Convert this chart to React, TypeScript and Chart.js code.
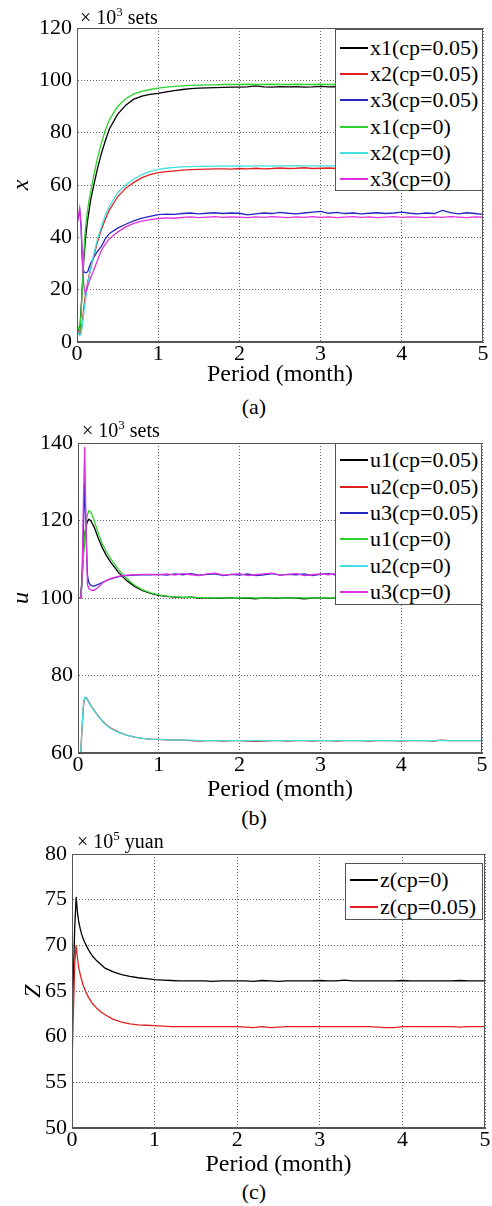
import React, { useEffect, useRef } from "react";
import { Chart, registerables } from "chart.js";
Chart.register(...registerables);

const FONT = "'Liberation Serif', 'Times New Roman', serif";

// time axis (months)
const T = [0, 0.033, 0.05, 0.067, 0.083, 0.1, 0.117, 0.133, 0.15, 0.167, 0.2, 0.25, 0.3, 0.35, 0.4, 0.5, 0.6, 0.7, 0.8, 0.9,
  1.0, 1.1, 1.2, 1.3, 1.4, 1.5, 1.6, 1.7, 1.8, 1.9,
  2.0, 2.1, 2.2, 2.3, 2.4, 2.5, 2.6, 2.7, 2.8, 2.9,
  3.0, 3.1, 3.2, 3.3, 3.4, 3.5, 3.6, 3.7, 3.8, 3.9,
  4.0, 4.1, 4.2, 4.3, 4.4, 4.5, 4.6, 4.7, 4.8, 4.9,
  5.0];
const X_TICKS = [0, 1, 2, 3, 4, 5];

// ---- panel (a): x, x10^3 sets ----
const x1_cp005 = [5, 4, 12, 22, 31, 38, 43, 47, 50.5, 54, 59, 66, 72, 77, 81.5, 87, 90.5, 92.8, 94, 94.6,
  95.0, 95.6, 96.1, 96.5, 96.8, 97.0, 97.1, 97.2, 97.3, 97.4,
  97.4, 97.5, 97.9, 97.5, 97.4, 97.6, 97.5, 97.6, 97.4, 97.5,
  97.7, 97.5, 97.6, 97.4, 97.5, 97.6, 97.5, 97.4, 97.6, 97.5,
  97.5, 97.6, 97.4, 97.5, 97.6, 97.5, 97.4, 97.6, 97.5, 97.6,
  97.5];
const x2_cp005 = [4, 3, 4, 8, 13, 17, 20, 23, 25.5, 28, 32, 38, 43, 47, 50.5, 55.5, 58.8, 61, 62.8, 64,
  64.7, 65.1, 65.4, 65.7, 65.9, 66.0, 66.1, 66.2, 66.2, 66.1,
  66.3, 66.2, 66.4, 66.2, 66.3, 66.5, 66.3, 66.4, 66.6, 66.3,
  66.4, 66.5, 66.3, 66.4, 66.5, 66.3, 66.4, 66.5, 66.4, 66.3,
  66.4, 66.5, 66.4, 66.3, 66.5, 66.4, 66.4, 66.5, 66.3, 66.4,
  66.4];
const x3_cp005 = [45, 50.5, 44, 30, 27, 26.5, 26.5, 27, 28.5, 30, 32, 34.5, 36.5, 39.5, 41.5, 43.5, 45, 46.3, 47.3, 48,
  48.7, 48.9, 48.8, 49.1, 49.3, 49.0, 49.2, 49.4, 49.1, 49.3,
  49.2, 48.6, 49.0, 49.3, 49.1, 49.5, 49.2, 49.0, 49.3, 49.6,
  49.9, 49.2, 49.5, 49.1, 49.3, 49.0, 49.2, 49.4, 49.1, 49.3,
  49.6, 49.2, 49.0, 49.3, 49.1, 50.3, 49.4, 49.0, 49.4, 49.1,
  48.8];
const x1_cp0 = [7, 4, 11, 22, 33, 42, 47, 51, 54.5, 57, 62.5, 70, 76, 81, 85, 90, 93, 94.8, 95.8, 96.5,
  97.0, 97.4, 97.7, 97.9, 98.1, 98.2, 98.3, 98.3, 98.4, 98.4,
  98.4, 98.5, 98.4, 98.4, 98.5, 98.4, 98.4, 98.5, 98.4, 98.4,
  98.5, 98.4, 98.4, 98.5, 98.4, 98.4, 98.5, 98.4, 98.4, 98.5,
  98.4, 98.4, 98.5, 98.4, 98.4, 98.5, 98.4, 98.4, 98.5, 98.4,
  98.4];
const x2_cp0 = [4, 2.5, 3, 7, 11, 15, 19, 22, 25, 28, 32.5, 39, 44, 48.5, 52, 57, 60, 62.3, 64, 65.2,
  66.0, 66.4, 66.7, 66.9, 67.0, 67.1, 67.1, 67.2, 67.2, 67.2,
  67.3, 67.2, 67.3, 67.3, 67.2, 67.3, 67.3, 67.4, 67.3, 67.3,
  67.3, 67.3, 67.4, 67.3, 67.3, 67.3, 67.4, 67.3, 67.3, 67.3,
  67.3, 67.4, 67.3, 67.3, 67.3, 67.4, 67.3, 67.3, 67.3, 67.3,
  67.3];
const x3_cp0 = [45, 51, 45, 32, 22, 18.5, 20, 21.5, 23, 24.5, 27, 31, 35, 37.5, 39.5, 42, 44, 45.3, 46.2, 46.8,
  47.2, 47.4, 47.3, 47.6, 47.8, 47.5, 47.7, 47.9, 47.6, 47.8,
  47.7, 47.5, 47.8, 47.6, 47.9, 47.7, 47.5, 47.8, 47.6, 47.9,
  47.6, 47.8, 47.5, 47.7, 47.9, 47.6, 47.8, 47.5, 47.7, 47.9,
  47.6, 47.8, 47.7, 47.5, 47.8, 47.6, 47.9, 47.7, 47.5, 47.8,
  47.7];

// ---- panel (b): u, x10^3 sets ----
const u1_cp005 = [100, 100, 105, 112, 116.5, 118.5, 119.8, 120.3, 120.1, 119.6, 118.3, 115.5, 113, 111, 109.4, 106.6, 104.5, 103, 101.9, 101.2,
  100.7, 100.4, 100.2, 100.1, 100.2, 100.0, 100.1, 99.9, 100.0, 100.1,
  99.9, 100.0, 99.8, 100.1, 100.0, 99.9, 100.1, 100.0, 99.8, 100.0,
  100.1, 99.9, 100.0, 100.1, 99.9, 100.0, 100.0, 99.9, 100.1, 100.0,
  99.9, 100.0, 100.1, 100.0, 99.9, 100.0, 100.1, 99.9, 100.0, 100.0,
  100.0];
const u2_cp005 = [60, 60, 66, 72, 74.2, 74.3, 73.8, 73.2, 72.6, 72, 71, 69.6, 68.3, 67.3, 66.5, 65.4, 64.6, 64.1, 63.8, 63.6,
  63.5, 63.4, 63.3, 63.3, 63.2, 63.1, 63.2, 63.2, 63.1, 63.2,
  63.2, 63.1, 63.0, 63.1, 63.2, 63.2, 63.1, 63.2, 63.2, 63.1,
  63.2, 63.2, 63.1, 63.2, 63.2, 63.2, 63.1, 63.2, 63.2, 63.2,
  63.1, 63.2, 63.2, 63.2, 63.1, 63.3, 63.2, 63.2, 63.2, 63.2,
  63.2];
const u3_cp005 = [100, 100, 104, 118, 130, 116, 106, 104, 103.5, 103.2, 103.1, 103.5, 104, 104.5, 104.9, 105.5, 105.8, 105.9, 106, 106,
  106.1, 105.9, 106.2, 106.0, 106.3, 105.9, 106.1, 106.2, 105.8, 106.1,
  105.9, 106.2, 105.8, 106.0, 106.3, 105.9, 106.1, 106.0, 106.2, 105.8,
  106.1, 106.3, 105.9, 106.0, 106.2, 105.9, 106.1, 106.0, 106.2, 106.0,
  106.1, 105.9, 106.2, 106.0, 105.9, 106.1, 106.2, 105.9, 106.0, 106.1,
  106.0];
const u1_cp0 = [100, 100, 104, 110, 116, 119.5, 121.5, 122.5, 122.3, 121.8, 120, 116.8, 114, 112, 110.3, 107.4, 105.1, 103.3, 102.1, 101.3,
  100.8, 100.5, 100.3, 100.2, 100.2, 100.1, 100.1, 100.0, 100.1, 100.0,
  100.0, 100.1, 100.0, 100.0, 100.1, 100.0, 100.0, 100.1, 100.0, 100.0,
  100.1, 100.0, 100.0, 100.1, 100.0, 100.0, 100.1, 100.0, 100.0, 100.1,
  100.0, 100.0, 100.1, 100.0, 100.0, 100.1, 100.0, 100.0, 100.1, 100.0,
  100.0];
const u2_cp0 = [60, 60, 66.5, 72.5, 74.4, 74.2, 73.7, 73.1, 72.5, 71.9, 70.9, 69.5, 68.2, 67.2, 66.4, 65.3, 64.6, 64.1, 63.8, 63.6,
  63.5, 63.4, 63.3, 63.3, 63.3, 63.2, 63.2, 63.2, 63.2, 63.2,
  63.2, 63.2, 63.2, 63.2, 63.2, 63.2, 63.2, 63.2, 63.2, 63.2,
  63.2, 63.2, 63.2, 63.2, 63.2, 63.2, 63.2, 63.2, 63.2, 63.2,
  63.2, 63.2, 63.2, 63.2, 63.2, 63.2, 63.2, 63.2, 63.2, 63.2,
  63.2];
const u3_cp0 = [100, 100, 105, 125, 139, 118, 103.5, 102.5, 102.2, 102, 102, 102.8, 103.8, 104.5, 105, 105.6, 105.9, 106, 106.1, 106.1,
  106.0, 106.2, 105.9, 106.3, 106.0, 105.8, 106.2, 106.4, 105.9, 106.1,
  106.3, 105.8, 106.0, 106.2, 106.4, 105.9, 106.1, 106.3, 105.8, 106.0,
  106.2, 106.0, 106.3, 105.9, 106.1, 106.2, 105.9, 106.1, 106.0, 106.2,
  106.0, 106.1, 105.9, 106.2, 106.0, 106.1, 105.9, 106.2, 106.0, 106.1,
  106.0];

// ---- panel (c): Z, x10^5 yuan ----
const z_cp0 = [61, 72, 75.3, 73.5, 72.5, 71.8, 71.2, 70.8, 70.4, 70.1, 69.5, 68.8, 68.3, 67.9, 67.5, 67.1, 66.8, 66.6, 66.45, 66.35,
  66.25, 66.2, 66.15, 66.1, 66.1, 66.1, 66.1, 66.05, 66.1, 66.1,
  66.1, 66.1, 66.05, 66.15, 66.1, 66.05, 66.1, 66.1, 66.1, 66.1,
  66.15, 66.1, 66.1, 66.2, 66.1, 66.1, 66.1, 66.1, 66.1, 66.1,
  66.15, 66.1, 66.1, 66.1, 66.1, 66.1, 66.1, 66.15, 66.1, 66.1,
  66.1];
const z_cp005 = [57, 68, 70, 68.5, 67.5, 66.8, 66.2, 65.7, 65.3, 64.9, 64.3, 63.6, 63.1, 62.7, 62.4, 61.9, 61.6, 61.4, 61.3, 61.25,
  61.2, 61.15, 61.1, 61.1, 61.1, 61.1, 61.1, 61.1, 61.1, 61.1,
  61.1, 61.05, 61.0, 61.1, 61.0, 61.05, 61.1, 61.1, 61.1, 61.1,
  61.1, 61.1, 61.1, 61.1, 61.1, 61.1, 61.1, 61.05, 61.0, 61.0,
  61.1, 61.1, 61.1, 61.1, 61.1, 61.1, 61.1, 61.05, 61.1, 61.1,
  61.1];

const BLACK = "#000000";
const RED = "#e02020";
const BLUE = "#2525c0";
const GREEN = "#2ed22e";
const CYAN = "#3ee0e0";
const MAGENTA = "#e030e0";

type Series = { label: string; data: number[]; color: string };

const framePlugin = {
  id: "frame",
  afterDatasetsDraw(chart: any) {
    const { ctx, chartArea: a } = chart;
    ctx.save();
    ctx.strokeStyle = "#555";
    ctx.lineWidth = 1;
    ctx.strokeRect(Math.round(a.left) + 0.5, Math.round(a.top) + 0.5, Math.round(a.right - a.left) - 1, Math.round(a.bottom - a.top) - 1);
    ctx.restore();
  },
};

type PanelProps = {
  top: number; height: number; padTop: number; padRight: number; yW: number; xH: number;
  yMin: number; yMax: number; yStep: number; yTitle: string; yTitlePad: number;
  series: Series[];
  legend: { left: number; top: number; width: number; height: number; padTop: number; row: number };
  unitsExp: string; unitsText: string; unitsLeft: number; unitsTop: number;
  caption: string; captionTop: number;
};

function Panel(p: PanelProps) {
  const ref = useRef<HTMLCanvasElement>(null);
  useEffect(() => {
    const tickFont = { family: FONT, size: 22, lineHeight: 1 };
    const chart = new Chart(ref.current as HTMLCanvasElement, {
      type: "line",
      data: {
        datasets: p.series.map((s, i) => ({
          label: s.label,
          data: s.data.map((v, j) => ({ x: T[j], y: v })),
          borderColor: s.color,
          backgroundColor: s.color,
          borderWidth: 1.3,
          pointRadius: 0,
          tension: 0,
          fill: false,
          order: -i,
        })),
      },
      options: {
        animation: false,
        responsive: false,
        maintainAspectRatio: false,
        layout: { padding: { top: p.padTop, right: p.padRight, left: 0, bottom: 0 } },
        plugins: { legend: { display: false }, tooltip: { enabled: false } },
        scales: {
          x: {
            type: "linear",
            min: 0,
            max: 5,
            afterBuildTicks: (s: any) => { s.ticks = X_TICKS.map((v) => ({ value: v })); },
            ticks: { font: tickFont, color: "#000", padding: 1, maxRotation: 0, autoSkip: false },
            grid: { color: "#666", lineWidth: 1, drawTicks: false },
            border: { display: true, color: "#555", dash: [1, 2] },
            title: { display: true, text: "Period (month)", font: { family: FONT, size: 24, lineHeight: 1.2 }, color: "#000", padding: 0 },
            afterFit: (s: any) => { s.height = p.xH; },
          },
          y: {
            type: "linear",
            min: p.yMin,
            max: p.yMax,
            ticks: { stepSize: p.yStep, font: tickFont, color: "#000", padding: 5 },
            grid: { color: "#666", lineWidth: 1, drawTicks: false },
            border: { display: true, color: "#555", dash: [1, 2] },
            title: { display: true, text: p.yTitle, font: { family: FONT, size: 24, style: "italic", lineHeight: 1.2 }, color: "#000", padding: { top: p.yTitlePad, bottom: 0 } },
            afterFit: (s: any) => { s.width = p.yW; },
          },
        },
      } as any,
      plugins: [framePlugin],
    });
    return () => chart.destroy();
  }, []);

  const lg = p.legend;
  return (
    <>
      <canvas ref={ref} width={492} height={p.height}
        style={{ position: "absolute", left: 0, top: p.top, width: 492, height: p.height }} />
      <div style={{ position: "absolute", left: lg.left, top: lg.top, width: lg.width, height: lg.height,
        border: "1px solid #555", background: "#fff", boxSizing: "border-box", paddingTop: lg.padTop }}>
        {p.series.map((s) => (
          <div key={s.label} style={{ height: lg.row, display: "flex", alignItems: "center", fontFamily: FONT, fontSize: 22, color: "#000", whiteSpace: "nowrap" }}>
            <span style={{ display: "inline-block", width: 28, height: 0, borderTop: "2px solid " + s.color, marginLeft: 4, marginRight: 2 }} />
            <span>{s.label}</span>
          </div>
        ))}
      </div>
      <div style={{ position: "absolute", left: p.unitsLeft, top: p.unitsTop, fontFamily: FONT, fontSize: 20, lineHeight: "22px", color: "#000", whiteSpace: "nowrap" }}>
        {"\u00d7 10"}<sup style={{ fontSize: 13, lineHeight: 0 }}>{p.unitsExp}</sup>{" " + p.unitsText}
      </div>
      <div style={{ position: "absolute", left: 204, width: 100, top: p.captionTop, textAlign: "center", fontFamily: FONT, fontSize: 22, lineHeight: "26px", color: "#000" }}>
        {p.caption}
      </div>
    </>
  );
}

export default function App() {
  return (
    <div style={{ position: "absolute", left: 0, top: 0, width: 492, height: 1206, background: "#fff" }}>
      <Panel top={0} height={389} padTop={28} padRight={9} yW={77} xH={47}
        yMin={0} yMax={120} yStep={20} yTitle="x" yTitlePad={7}
        series={[
          { label: "x1(cp=0.05)", data: x1_cp005, color: BLACK },
          { label: "x2(cp=0.05)", data: x2_cp005, color: RED },
          { label: "x3(cp=0.05)", data: x3_cp005, color: BLUE },
          { label: "x1(cp=0)", data: x1_cp0, color: GREEN },
          { label: "x2(cp=0)", data: x2_cp0, color: CYAN },
          { label: "x3(cp=0)", data: x3_cp0, color: MAGENTA },
        ]}
        legend={{ left: 335, top: 29, width: 148, height: 162, padTop: 5, row: 26.2 }}
        unitsExp="3" unitsText="sets" unitsLeft={80} unitsTop={6}
        caption="(a)" captionTop={394} />
      <Panel top={412} height={392} padTop={31} padRight={10} yW={78} xH={51}
        yMin={60} yMax={140} yStep={20} yTitle="u" yTitlePad={7}
        series={[
          { label: "u1(cp=0.05)", data: u1_cp005, color: BLACK },
          { label: "u2(cp=0.05)", data: u2_cp005, color: RED },
          { label: "u3(cp=0.05)", data: u3_cp005, color: BLUE },
          { label: "u1(cp=0)", data: u1_cp0, color: GREEN },
          { label: "u2(cp=0)", data: u2_cp0, color: CYAN },
          { label: "u3(cp=0)", data: u3_cp0, color: MAGENTA },
        ]}
        legend={{ left: 335, top: 443, width: 147, height: 162, padTop: 3, row: 26.4 }}
        unitsExp="3" unitsText="sets" unitsLeft={82} unitsTop={419}
        caption="(b)" captionTop={805} />
      <Panel top={830} height={349} padTop={24} padRight={7} yW={72} xH={51}
        yMin={50} yMax={80} yStep={5} yTitle="Z" yTitlePad={19}
        series={[
          { label: "z(cp=0)", data: z_cp0, color: BLACK },
          { label: "z(cp=0.05)", data: z_cp005, color: RED },
        ]}
        legend={{ left: 345, top: 863, width: 138, height: 57, padTop: 3, row: 26.5 }}
        unitsExp="5" unitsText="yuan" unitsLeft={77} unitsTop={830}
        caption="(c)" captionTop={1179} />
    </div>
  );
}
